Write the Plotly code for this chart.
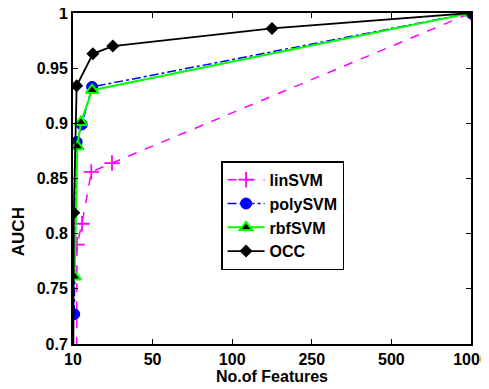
import plotly.graph_objects as go

# x positions in tick-index units (0..5 -> 10,50,100,250,500,1000 features)
tick_labels = ["10", "50", "100", "250", "500", "1000"]
tick_pos = [0, 1, 2, 3, 4, 5]

lin_x = [0.04, 0.05, 0.113, 0.23, 0.49, 5]
lin_y = [0.60, 0.790, 0.809, 0.856, 0.864, 1.0]

poly_x = [0.015, 0.046, 0.11, 0.24, 5]
poly_y = [0.727, 0.883, 0.899, 0.933, 1.0]

rbf_x = [0.02, 0.055, 0.10, 0.24, 5]
rbf_y = [0.761, 0.879, 0.901, 0.930, 1.0]

occ_x = [0.0, 0.01, 0.046, 0.25, 0.5, 2.5, 5]
occ_y = [0.60, 0.819, 0.934, 0.963, 0.970, 0.986, 1.0]

y_ticks = [0.7, 0.75, 0.8, 0.85, 0.9, 0.95, 1.0]
y_labels = ["0.7", "0.75", "0.8", "0.85", "0.9", "0.95", "1"]

FONT = "Liberation Sans, Arial, sans-serif"

fig = go.Figure()
fig.add_trace(go.Scatter(
    x=lin_x, y=lin_y, name="<b>linSVM</b>", mode="lines+markers",
    line=dict(color="#ff00ff", width=1.5, dash="dash"),
    marker=dict(symbol="cross-thin", size=11, line=dict(color="#ff00ff", width=1.8)),
))
fig.add_trace(go.Scatter(
    x=poly_x, y=poly_y, name="<b>polySVM</b>", mode="lines+markers",
    line=dict(color="#0000ff", width=1.5, dash="dashdot"),
    marker=dict(symbol="circle", size=11, color="#0000ff", line=dict(color="#0000ff", width=1)),
))
fig.add_trace(go.Scatter(
    x=rbf_x, y=rbf_y, name="<b>rbfSVM</b>", mode="lines+markers",
    line=dict(color="#00ff00", width=2),
    marker=dict(symbol="triangle-up", size=11, color="black", line=dict(color="#00ff00", width=2)),
))
fig.add_trace(go.Scatter(
    x=occ_x, y=occ_y, name="<b>OCC</b>", mode="lines+markers",
    line=dict(color="black", width=1.8),
    marker=dict(symbol="diamond", size=10, color="black"),
))

axis_common = dict(
    showgrid=False, zeroline=False, showline=True, linecolor="black", linewidth=2,
    mirror="ticks", ticks="inside", ticklen=5, tickcolor="black", tickwidth=1,
    tickfont=dict(family=FONT, size=16, color="black"),
    automargin=False, ticklabeloverflow="allow",
)

fig.update_xaxes(
    range=[0, 5], tickvals=tick_pos, ticktext=["<b>%s</b>" % t for t in tick_labels],
    title=dict(text="<b>No.of Features</b>", font=dict(family=FONT, size=16, color="black"), standoff=2),
    **axis_common,
)
fig.update_yaxes(
    range=[0.7, 1.0], tickvals=y_ticks, ticktext=["<b>%s</b>" % t for t in y_labels],
    **axis_common,
)

fig.add_annotation(
    text="<b>AUCH</b>", xref="paper", yref="paper", x=-0.138, y=0.338,
    textangle=-90, showarrow=False, font=dict(family=FONT, size=17, color="black"),
    xanchor="center", yanchor="middle",
)

fig.update_layout(
    width=481, height=381,
    margin=dict(l=65, r=18, t=5, b=45),
    plot_bgcolor="white", paper_bgcolor="white",
    showlegend=True,
    legend=dict(
        x=0.372, y=0.552, xanchor="left", yanchor="top",
        bordercolor="black", borderwidth=1.5, bgcolor="white",
        font=dict(family=FONT, size=16, color="black"),
        itemwidth=37, tracegroupgap=0,
    ),
)

fig.write_html("out.html")
